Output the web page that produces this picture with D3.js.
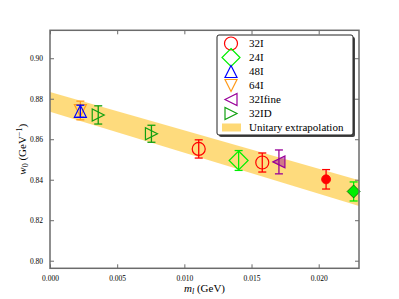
<!DOCTYPE html>
<html>
<head>
<meta charset="utf-8">
<script src="https://cdn.jsdelivr.net/npm/d3@7"></script>
<style>
body { margin: 0; background: #fff; }
svg { display: block; }
text { font-family: "Liberation Serif", "DejaVu Serif", serif; fill: #000; }
</style>
</head>
<body>
<svg id="chart"></svg>
<script>
// series: [ml, w0, err]
var ens32I = [[0.01107, 0.8552, 0.0045], [0.0158, 0.8485, 0.0047]]
var ens24I = [[0.01404, 0.8495, 0.0049]]
var ens48I = [[0.00226, 0.8738, 0.0030]]
var ens64I = [[0.00226, 0.8742, 0.0046]]
var ens32Ifine = [[0.01704, 0.8488, 0.0059]]
var ens32ID = [[0.00359, 0.8720, 0.0045], [0.00755, 0.8627, 0.0042]]
// filled points
var phys32I = [[0.02055, 0.8402, 0.0048]]
var phys24I = [[0.0226, 0.8342, 0.0047]]

var bandX = [0, 0.023]
var bandLow = [0.8736, 0.8270]
var bandHigh = [0.8833, 0.8398]

var xTicks = [0, 0.005, 0.010, 0.015, 0.020]
var yTicks = [0.80, 0.82, 0.84, 0.86, 0.88, 0.90]

var legendNames = ["32I", "24I", "48I", "64I", "32Ifine", "32ID", "Unitary extrapolation"]

var screen = { width: 399, height: 299 }
var margins = { left: 50, right: 40, top: 30.3, bottom: 30.7 }
var graph = {
    width: screen.width - margins.left - margins.right,
    height: screen.height - margins.top - margins.bottom
}

var svg = d3.select("#chart")
    .attr("width", screen.width)
    .attr("height", screen.height)

var xScale = d3.scaleLinear().domain([0, 0.023]).range([0, graph.width])
var yScale = d3.scaleLinear().domain([0.79625, 0.9138]).range([graph.height, 0])

var target = svg.append("g")
    .attr("transform", "translate(" + margins.left + "," + margins.top + ")")

// band
var bandData = bandX.map(function (x, i) {
    return { x: x, lo: bandLow[i], hi: bandHigh[i] }
})
var area = d3.area()
    .x(function (d) { return xScale(d.x) })
    .y0(function (d) { return yScale(d.lo) })
    .y1(function (d) { return yScale(d.hi) })
target.append("path")
    .datum(bandData)
    .attr("d", area)
    .attr("fill", "#fed976")
    .attr("opacity", 0.95)

// marker shapes
var markerPath = function (shape, r) {
    if (shape == "circle") {
        return "M" + r + ",0A" + r + "," + r + " 0 1,1 " + (-r) + ",0A" + r + "," + r + " 0 1,1 " + r + ",0Z"
    }
    if (shape == "diamond") {
        return "M0," + (-r) + "L" + r + ",0L0," + r + "L" + (-r) + ",0Z"
    }
    if (shape == "up") {
        return "M0," + (-r) + "L" + r + "," + r + "L" + (-r) + "," + r + "Z"
    }
    if (shape == "down") {
        return "M0," + r + "L" + r + "," + (-r) + "L" + (-r) + "," + (-r) + "Z"
    }
    if (shape == "left") {
        return "M" + (-r) + ",0L" + r + "," + (-r) + "L" + r + "," + r + "Z"
    }
    return "M" + r + ",0L" + (-r) + "," + (-r) + "L" + (-r) + "," + r + "Z"
}

var series = [
    { data: ens64I, color: "#ff9a1a", shape: "down", r: 6, fill: "none" },
    { data: ens48I, color: "#0000ff", shape: "up", r: 6, fill: "none" },
    { data: ens32ID, color: "#10a010", shape: "right", r: 6, fill: "none" },
    { data: ens32I, color: "#ff0000", shape: "circle", r: 6.5, fill: "none" },
    { data: ens24I, color: "#00ee00", shape: "diamond", r: 9.5, fill: "none" },
    { data: ens32Ifine, color: "#990099", shape: "left", r: 6, fill: "rgba(153,0,153,0.45)" },
    { data: phys32I, color: "#ff0000", shape: "circle", r: 4.5, fill: "#ff0000" },
    { data: phys24I, color: "#00ee00", shape: "diamond", r: 6.5, fill: "#00ee00" }
]

series.forEach(function (s) {
    var g = target.append("g")
        .attr("stroke", s.color)
        .attr("stroke-width", 1.3)
    s.data.forEach(function (p) {
        var cx = xScale(p[0])
        var cy = yScale(p[1])
        var top = yScale(p[1] + p[2])
        var bot = yScale(p[1] - p[2])
        g.append("line").attr("x1", cx).attr("x2", cx).attr("y1", top).attr("y2", bot)
        g.append("line").attr("x1", cx - 4).attr("x2", cx + 4).attr("y1", top).attr("y2", top)
        g.append("line").attr("x1", cx - 4).attr("x2", cx + 4).attr("y1", bot).attr("y2", bot)
        g.append("path")
            .attr("d", markerPath(s.shape, s.r))
            .attr("transform", "translate(" + cx + "," + cy + ")")
            .attr("fill", s.fill)
            .attr("stroke-width", s.fill == "none" || s.shape == "left" ? 1.2 : 0.8)
            .attr("stroke", s.shape == "diamond" && s.fill != "none" ? "#006600" : s.color)
    })
})

// axes, ticks inward on all sides
var frameColor = "#6b6b6b"
var xAxisB = d3.axisBottom(xScale).tickValues(xTicks).tickFormat(d3.format(".3f")).tickSizeInner(-4).tickSizeOuter(0).tickPadding(7)
var xAxisT = d3.axisTop(xScale).tickValues(xTicks).tickFormat("").tickSizeInner(-4).tickSizeOuter(0)
var yAxisL = d3.axisLeft(yScale).tickValues(yTicks).tickFormat(d3.format(".2f")).tickSizeInner(-4).tickSizeOuter(0).tickPadding(7)
var yAxisR = d3.axisRight(yScale).tickValues(yTicks).tickFormat("").tickSizeInner(-4).tickSizeOuter(0)

var axes = target.append("g")
axes.append("g").attr("transform", "translate(0," + graph.height + ")").call(xAxisB)
axes.append("g").call(xAxisT)
axes.append("g").call(yAxisL)
axes.append("g").attr("transform", "translate(" + graph.width + ",0)").call(yAxisR)
axes.selectAll(".domain").remove()
axes.selectAll(".tick line").attr("stroke", frameColor).attr("stroke-width", 1)
axes.selectAll(".tick text")
    .style("font-family", "'Liberation Serif', serif")
    .style("font-size", "7.5px")
    .attr("fill", "#333")

target.append("rect")
    .attr("width", graph.width)
    .attr("height", graph.height)
    .attr("fill", "none")
    .attr("stroke", frameColor)
    .attr("stroke-width", 1.5)

// labels
var xLabel = svg.append("text")
    .attr("x", margins.left + graph.width / 2)
    .attr("y", 292)
    .attr("text-anchor", "middle")
    .style("font-size", "11px")
xLabel.append("tspan").text("m").style("font-style", "italic")
xLabel.append("tspan").text("l").style("font-style", "italic").style("font-size", "8px").attr("dy", 2)
xLabel.append("tspan").text(" (GeV)").attr("dy", -2)

var yLabel = svg.append("text")
    .attr("transform", "translate(26," + (margins.top + graph.height / 2) + ") rotate(-90)")
    .attr("text-anchor", "middle")
    .style("font-size", "11px")
yLabel.append("tspan").text("w").style("font-style", "italic")
yLabel.append("tspan").text("0").style("font-size", "8px").attr("dy", 2)
yLabel.append("tspan").text(" (GeV").attr("dy", -2)
yLabel.append("tspan").text("\u22121").style("font-size", "8px").attr("dy", -4)
yLabel.append("tspan").text(")").attr("dy", 4)

// legend
var legend = svg.append("g").attr("transform", "translate(217,35)")
legend.append("rect")
    .attr("x", 2).attr("y", 2)
    .attr("width", 136).attr("height", 100)
    .attr("rx", 2)
    .attr("fill", "#444")
legend.append("rect")
    .attr("width", 136).attr("height", 100)
    .attr("rx", 2)
    .attr("fill", "#fff")
    .attr("stroke", "#222")
    .attr("stroke-width", 1)

var legendShapes = [
    { color: "#ff0000", shape: "circle", r: 6.5, fill: "none" },
    { color: "#00ee00", shape: "diamond", r: 9, fill: "none" },
    { color: "#0000ff", shape: "up", r: 6, fill: "none" },
    { color: "#ff9a1a", shape: "down", r: 6, fill: "none" },
    { color: "#990099", shape: "left", r: 6, fill: "none" },
    { color: "#10a010", shape: "right", r: 6, fill: "none" }
]

legendNames.forEach(function (name, i) {
    var y = 8.5 + i * 14
    if (i < legendShapes.length) {
        var s = legendShapes[i]
        legend.append("path")
            .attr("d", markerPath(s.shape, s.r))
            .attr("transform", "translate(14," + y + ")")
            .attr("fill", s.fill)
            .attr("stroke", s.color)
            .attr("stroke-width", 1.2)
    } else {
        legend.append("rect")
            .attr("x", 5).attr("y", y - 4)
            .attr("width", 19).attr("height", 8)
            .attr("fill", "#fed976")
    }
    legend.append("text")
        .attr("x", 32)
        .attr("y", y + 3.5)
        .style("font-size", "11px")
        .text(name)
})
</script>
